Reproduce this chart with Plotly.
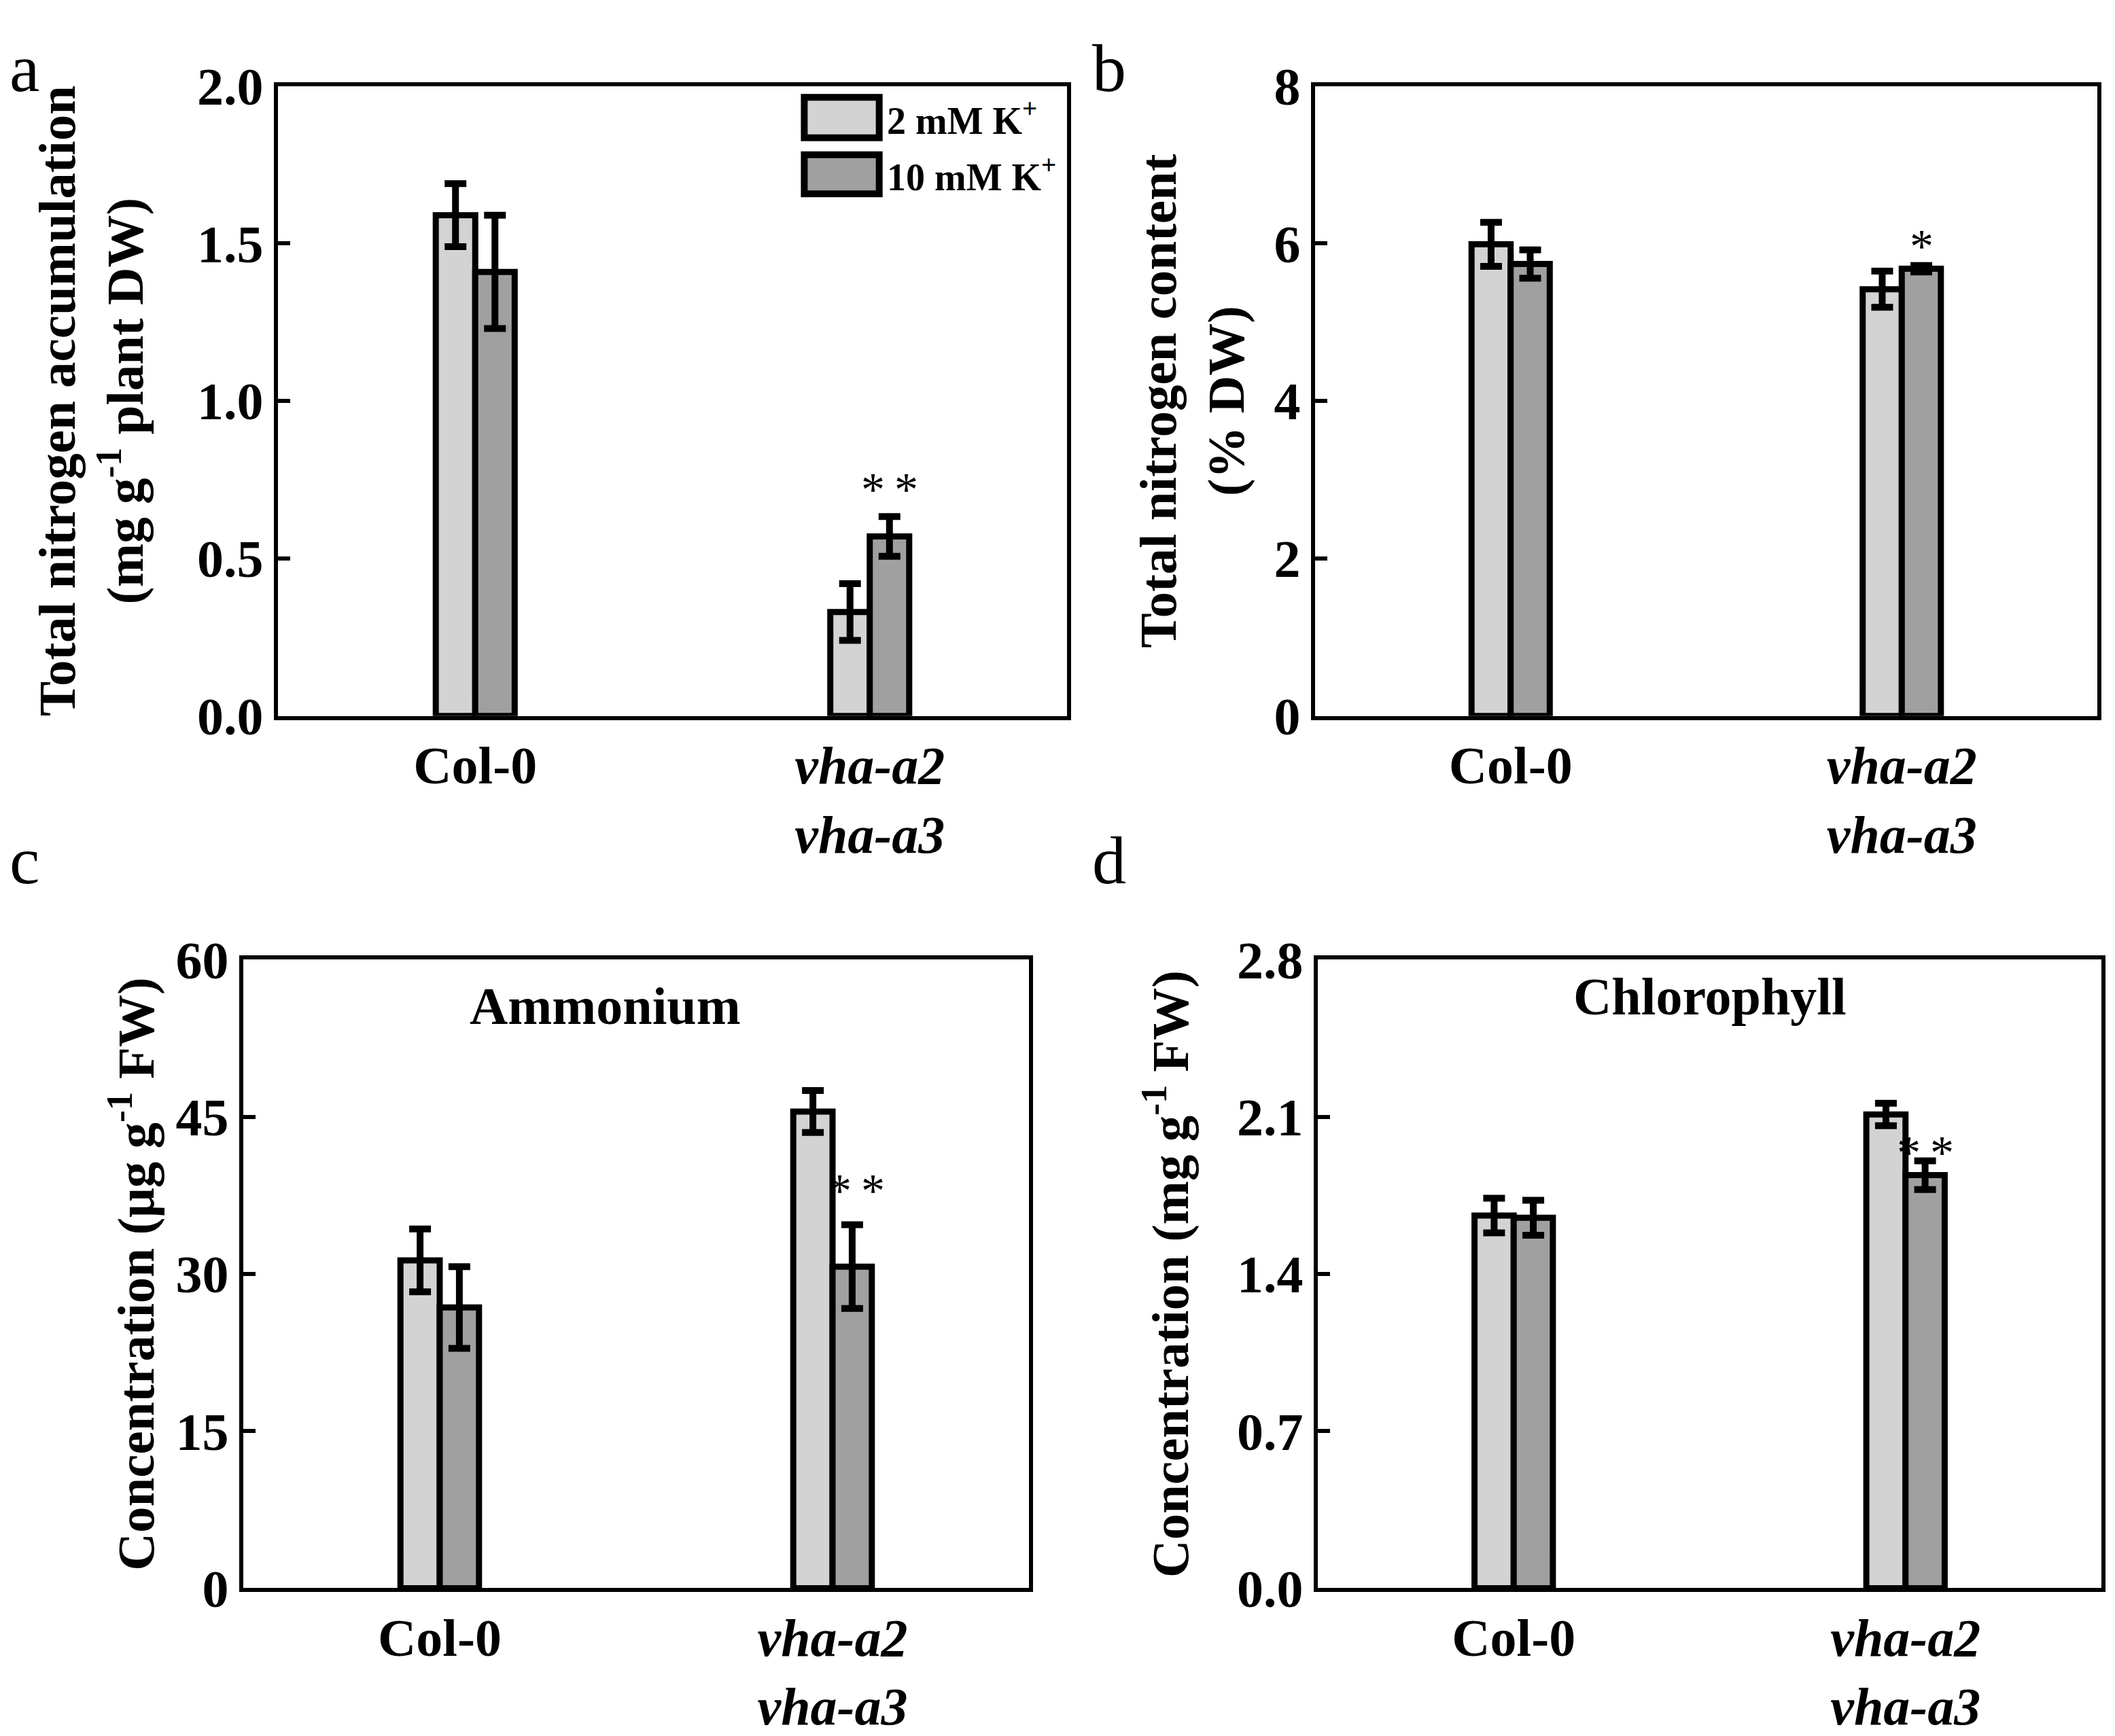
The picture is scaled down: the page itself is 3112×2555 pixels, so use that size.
import plotly.graph_objects as go

# ---------------- data ----------------
categories = ["Col-0", "vha-a2 vha-a3"]
tick_labels = ["<b>Col-0</b>", "<b><i>vha-a2</i></b><br><b><i>vha-a3</i></b>"]
series_names = ["2 mM K<sup>+</sup>", "10 mM K<sup>+</sup>"]

a_2mM = [1.59, 0.33]
a_2mM_err = [0.10, 0.09]
a_10mM = [1.41, 0.57]
a_10mM_err = [0.18, 0.063]

b_2mM = [5.99, 5.42]
b_2mM_err = [0.28, 0.23]
b_10mM = [5.74, 5.68]
b_10mM_err = [0.18, 0.04]

c_2mM = [31.3, 45.5]
c_2mM_err = [3.0, 2.0]
c_10mM = [26.8, 30.7]
c_10mM_err = [3.9, 4.0]

d_2mM = [1.66, 2.11]
d_2mM_err = [0.077, 0.05]
d_10mM = [1.65, 1.84]
d_10mM_err = [0.078, 0.064]

y_titles = [
    "Total nitrogen accumulation<br>(mg g<sup>-1</sup> plant DW)",
    "Total nitrogen content<br>(% DW)",
    "Concentration (μg g<sup>-1</sup> FW)",
    "Concentration (mg g<sup>-1</sup> FW)",
]
y_ranges = [[0, 2.0], [0, 8], [0, 60], [0, 2.8]]
y_dticks = [0.5, 2, 15, 0.7]
y_formats = [".1f", "d", "d", ".1f"]
panel_letters = ["a", "b", "c", "d"]
inner_titles = [None, None, "Ammonium", "Chlorophyll"]
# significance: (category index, series index, label)
significance = [(1, 1, "*\u2009*"), (1, 1, "*"), (1, 1, "*\u2009*"), (1, 1, "*\u2009*")]

# ---------------- style ----------------
W, H = 3112, 2555
FONT = "Liberation Serif"
LIGHT = "#d3d3d3"
DARK = "#a0a0a0"
colors = [LIGHT, DARK]
BARGAP = 0.8

TOP_T, TOP_B = 87, 1051
BOT_T, BOT_B = 1424, 2386
domains_x = [[409 / W, 1570 / W], [1935 / W, 3086 / W],
             [358 / W, 1514 / W], [1939 / W, 3092 / W]]
domains_y = [[1 - TOP_B / H, 1 - TOP_T / H], [1 - TOP_B / H, 1 - TOP_T / H],
             [1 - BOT_B / H, 1 - BOT_T / H], [1 - BOT_B / H, 1 - BOT_T / H]]
title_standoff = [56, 20, 8, 48]
sig_yshift = [40, 28, 50, 12]
sig_xshift = [0, 0, 6, 0]
letter_pos = [(12, 1.0), (1605, 1.0),
              (12, 1 - 1212 / H), (1605, 1 - 1212 / H)]
inner_title_pos = [None, None, (0.461, 0.926), (0.5, 0.942)]

panels = [
    (a_2mM, a_2mM_err, a_10mM, a_10mM_err),
    (b_2mM, b_2mM_err, b_10mM, b_10mM_err),
    (c_2mM, c_2mM_err, c_10mM, c_10mM_err),
    (d_2mM, d_2mM_err, d_10mM, d_10mM_err),
]

fig = go.Figure()
annotations = []
shapes = []

for i, (v1, e1, v2, e2) in enumerate(panels):
    sfx = "" if i == 0 else str(i + 1)
    xa, ya = "x" + sfx, "y" + sfx
    for s, (vals, errs) in enumerate([(v1, e1), (v2, e2)]):
        fig.add_trace(go.Bar(
            x=categories, y=vals, name=series_names[s],
            xaxis=xa, yaxis=ya, showlegend=False,
            offsetgroup=str(s),
            marker=dict(color=colors[s], line=dict(color="black", width=9)),
            error_y=dict(type="data", array=errs, visible=True,
                         color="black", thickness=10, width=16),
        ))
    axis_common = dict(showline=True, mirror=True, linewidth=6, linecolor="black",
                       showgrid=False, zeroline=False)
    fig.update_layout(**{
        "xaxis" + sfx: dict(
            domain=domains_x[i], anchor=ya, type="category",
            range=[-0.5, 1.5], ticks="", tickvals=categories, ticktext=tick_labels,
            tickfont=dict(family=FONT, size=78, color="black"),
            ticklabelstandoff=0, **axis_common),
        "yaxis" + sfx: dict(
            domain=domains_y[i], anchor=xa, range=y_ranges[i], dtick=y_dticks[i],
            tick0=0, tickformat=y_formats[i], ticks="inside", ticklen=18,
            tickwidth=6, tickcolor="black",
            tickfont=dict(family=FONT, size=78, color="black", weight="bold"),
            ticklabelstandoff=0,
            title=dict(text=y_titles[i], standoff=title_standoff[i],
                       font=dict(family=FONT, size=77, color="black", weight="bold")),
            **axis_common),
    })
    # significance marks
    cat_i, ser_i, lab = significance[i]
    vals, errs = (v1, e1) if ser_i == 0 else (v2, e2)
    offset = (1 - BARGAP) / 4 * (1 if ser_i == 1 else -1)
    annotations.append(dict(
        x=cat_i + offset, y=vals[cat_i] + errs[cat_i], xref=xa, yref=ya,
        text=lab, showarrow=False, yanchor="middle", xanchor="center",
        yshift=sig_yshift[i], xshift=sig_xshift[i],
        font=dict(family=FONT, size=70, color="black")))
    # panel letter
    lx, ly = letter_pos[i]
    annotations.append(dict(
        x=lx / W, y=ly, xref="paper", yref="paper", text=panel_letters[i],
        showarrow=False, xanchor="left", yanchor="top",
        font=dict(family=FONT, size=100, color="black")))
    if inner_titles[i]:
        tx, ty = inner_title_pos[i]
        annotations.append(dict(
            x=tx, y=ty, xref=xa + " domain", yref=ya + " domain",
            text="<b>" + inner_titles[i] + "</b>", showarrow=False,
            xanchor="center", yanchor="middle",
            font=dict(family=FONT, size=78, color="black")))

# legend (panel a), drawn as boxes + text
leg_boxes = [(0.667, 0.918, 0.762, 0.982), (0.667, 0.829, 0.762, 0.891)]
for s, (x0, y0, x1, y1) in enumerate(leg_boxes):
    shapes.append(dict(type="rect", xref="x domain", yref="y domain",
                       x0=x0, y0=y0, x1=x1, y1=y1, fillcolor=colors[s],
                       line=dict(color="black", width=10)))
    annotations.append(dict(
        x=0.770, y=(y0 + y1) / 2, xref="x domain", yref="y domain",
        text="<b>" + series_names[s] + "</b>", showarrow=False,
        xanchor="left", yanchor="middle",
        font=dict(family=FONT, size=56, color="black")))

fig.update_layout(
    width=W, height=H, margin=dict(l=0, r=0, t=0, b=0),
    paper_bgcolor="white", plot_bgcolor="white",
    barmode="group", bargap=BARGAP, bargroupgap=0,
    annotations=annotations, shapes=shapes, showlegend=False,
    font=dict(family=FONT, color="black"),
)

fig.write_html("out.html", config={"displayModeBar": False},
               post_script="document.body.style.margin='0';document.body.style.overflow='hidden';")
